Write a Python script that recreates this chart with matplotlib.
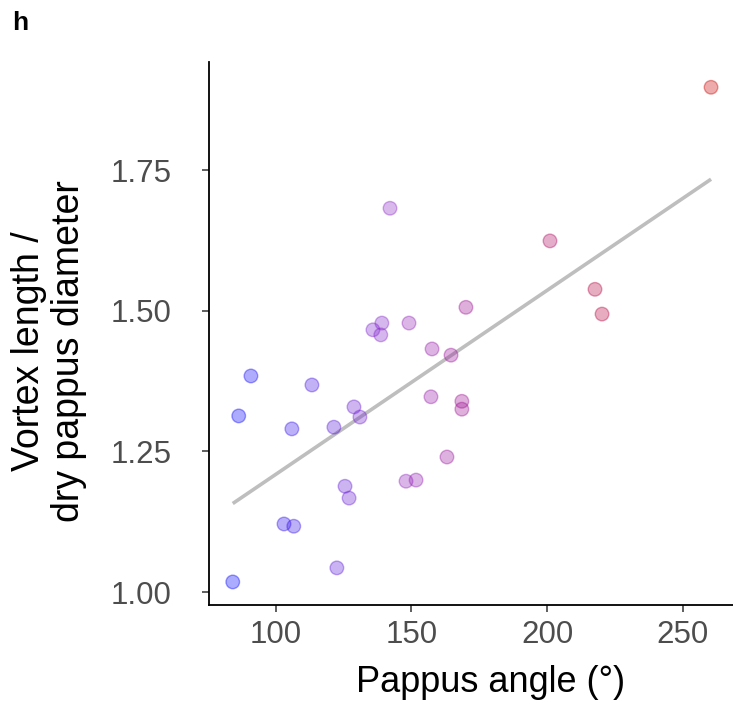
import numpy as np
import matplotlib
matplotlib.use("Agg")
import matplotlib.pyplot as plt
from matplotlib.colors import LinearSegmentedColormap

plt.rcParams['font.family'] = ['Liberation Sans', 'DejaVu Sans']

pappus_angle = [260.5, 201.1, 217.7, 220.3, 142.1, 170.1, 149.1, 139.1, 135.8, 138.7,
                157.6, 164.6, 90.8, 113.3, 128.8, 131.0, 157.2, 168.6, 168.6, 86.3,
                105.9, 121.4, 163.1, 125.5, 127.0, 148.0, 151.7, 103.0, 106.6, 122.5, 84.1]
vortex_ratio = [1.897, 1.624, 1.538, 1.494, 1.682, 1.506, 1.478, 1.478, 1.466, 1.457,
                1.432, 1.421, 1.384, 1.368, 1.329, 1.311, 1.347, 1.339, 1.325, 1.313,
                1.290, 1.293, 1.240, 1.188, 1.167, 1.197, 1.199, 1.121, 1.117, 1.043, 1.018]

x_ticks = [100, 150, 200, 250]
y_ticks = [1.00, 1.25, 1.50, 1.75]

x = np.array(pappus_angle)
y = np.array(vortex_ratio)

cmap = LinearSegmentedColormap.from_list(
    "br", [(0.0, "#0000ff"), (0.33, "#8d29c6"), (0.5, "#a10c8d"), (1.0, "#c90000")])

fig = plt.figure(figsize=(7.33, 7.04), dpi=100)
ax = fig.add_axes([0.285, 0.1406, 0.715, 0.7714])

norm = plt.Normalize(x.min(), x.max())
cols = cmap(norm(x))

# regression line
coef = np.polyfit(x, y, 1)
xl = np.array([x.min(), x.max()])
ax.plot(xl, np.polyval(coef, xl), color="#bebebe", lw=2.6, zorder=1, solid_capstyle="butt")

fc = cols.copy(); fc[:, 3] = 0.33
ec = cols.copy(); ec[:, 3] = 0.38
ax.scatter(x, y, s=95, facecolors=fc, edgecolors=ec, linewidths=1.0, zorder=2)

ax.set_xlim(75.3, 268.6)
ax.set_ylim(0.977, 1.942)
ax.set_xticks(x_ticks)
ax.set_yticks(y_ticks)
ax.set_yticklabels([f"{v:.2f}" for v in y_ticks])
ax.spines['top'].set_visible(False)
ax.spines['right'].set_visible(False)
for s in ['left', 'bottom']:
    ax.spines[s].set_linewidth(1.3)
    ax.spines[s].set_color("black")
ax.tick_params(axis='both', labelsize=22.5, colors="#333333", labelcolor="#4d4d4d",
               length=5, width=1.1, direction='out')
ax.tick_params(axis='x', pad=6)
ax.tick_params(axis='y', pad=22)
ax.set_xlabel("Pappus angle (°)", fontsize=26)
ax.xaxis.set_label_coords(0.538, -0.11)
ax.xaxis.label.set_va('top')
ax.set_ylabel("Vortex length /\ndry pappus diameter", fontsize=27, linespacing=1.12)
ax.yaxis.set_label_coords(-0.233, 0.468)

fig.text(0.016, 0.968, "h", fontsize=19, fontweight="bold", va="center", ha="left")

fig.savefig("out.png", dpi=100)
